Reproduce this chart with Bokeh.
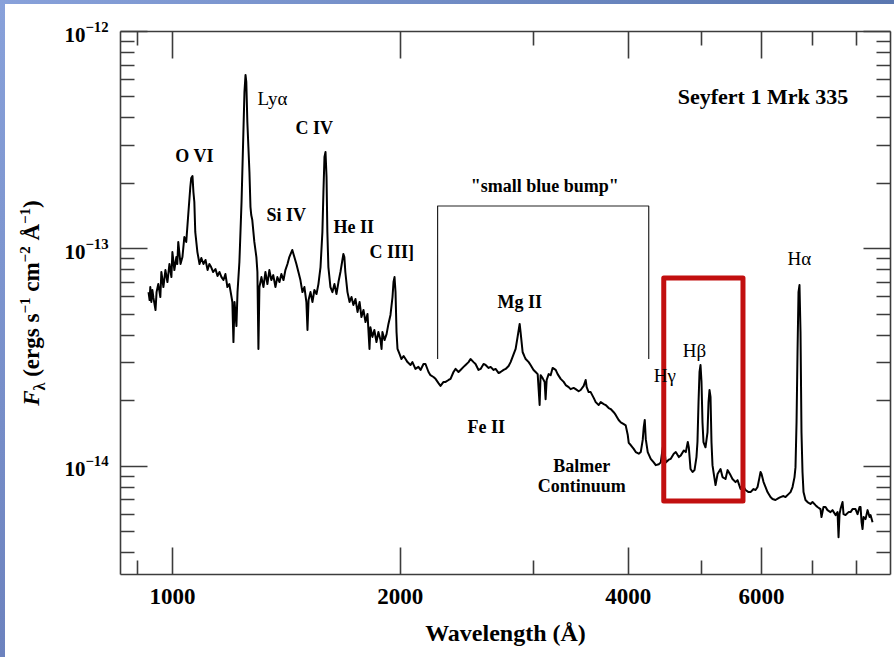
from bokeh.plotting import figure
from bokeh.layouts import column, row
from bokeh.models import (FixedTicker, LogAxis, Label, Div, Spacer,
                          NumeralTickFormatter, LogTickFormatter, CustomJSTickFormatter)
from bokeh.embed import file_html
from bokeh.resources import INLINE

# ---------------- data ----------------
FLUX_UNIT = 1e-14  # erg s^-1 cm^-2 A^-1

wavelength = [
    930, 933, 935, 938, 941, 944, 950, 953, 958, 964,
    967, 973, 979, 985, 991, 997, 1000, 1006, 1012, 1015,
    1018, 1025, 1031, 1037, 1043, 1050, 1056, 1059, 1063, 1066,
    1069, 1072, 1079, 1086, 1092, 1099, 1106, 1113, 1119, 1125,
    1132, 1140, 1147, 1154, 1161, 1168, 1175, 1182, 1189, 1197,
    1200, 1204, 1208, 1211, 1215, 1219, 1226, 1234, 1241, 1245,
    1249, 1252, 1256, 1260, 1264, 1268, 1271, 1275, 1283, 1291,
    1295, 1299, 1303, 1311, 1319, 1327, 1335, 1343, 1351, 1359,
    1368, 1376, 1385, 1393, 1402, 1410, 1419, 1427, 1436, 1440,
    1449, 1458, 1467, 1476, 1485, 1494, 1503, 1508, 1513, 1522,
    1531, 1540, 1550, 1559, 1569, 1578, 1583, 1588, 1593, 1598,
    1602, 1607, 1617, 1627, 1637, 1647, 1657, 1667, 1677, 1682,
    1687, 1692, 1703, 1714, 1724, 1734, 1745, 1756, 1767, 1777,
    1788, 1799, 1810, 1821, 1826, 1837, 1848, 1860, 1871, 1883,
    1889, 1894, 1906, 1918, 1929, 1941, 1953, 1959, 1965, 1971,
    1977, 1983, 1995, 2007, 2020, 2032, 2044, 2063, 2075, 2094,
    2113, 2127, 2146, 2159, 2179, 2192, 2212, 2226, 2246, 2260,
    2281, 2295, 2316, 2330, 2351, 2366, 2387, 2402, 2424, 2439,
    2461, 2476, 2499, 2514, 2537, 2553, 2576, 2592, 2616, 2632,
    2656, 2672, 2697, 2713, 2738, 2755, 2780, 2797, 2814, 2840,
    2857, 2875, 2883, 2901, 2919, 2928, 2955, 2972, 2999, 3018,
    3037, 3055, 3064, 3083, 3102, 3111, 3121, 3140, 3159, 3178,
    3208, 3227, 3257, 3287, 3307, 3337, 3357, 3388, 3409, 3440,
    3461, 3493, 3514, 3525, 3546, 3568, 3601, 3623, 3656, 3679,
    3713, 3735, 3769, 3792, 3827, 3850, 3885, 3910, 3946, 3969,
    3994, 4006, 4030, 4067, 4092, 4130, 4155, 4180, 4193, 4206,
    4219, 4244, 4283, 4322, 4349, 4389, 4416, 4443, 4456, 4470,
    4483, 4524, 4552, 4594, 4622, 4665, 4693, 4736, 4765, 4794,
    4809, 4834, 4864, 4893, 4922, 4937, 4953, 4968, 4983, 4998,
    5013, 5028, 5059, 5090, 5106, 5121, 5137, 5152, 5168, 5184,
    5216, 5248, 5296, 5328, 5377, 5410, 5459, 5492, 5543, 5577,
    5628, 5662, 5714, 5767, 5802, 5855, 5891, 5927, 5963, 5981,
    5999, 6036, 6073, 6109, 6165, 6203, 6259, 6317, 6355, 6413,
    6453, 6512, 6552, 6592, 6632, 6652, 6673, 6693, 6713, 6733,
    6754, 6774, 6795, 6816, 6857, 6899, 6962, 7005, 7069, 7112,
    7177, 7199, 7243, 7288, 7332, 7399, 7444, 7513, 7559, 7582,
    7605, 7628, 7675, 7698, 7745, 7816, 7864, 7912, 7984, 8033,
    8082, 8107, 8132, 8156, 8181, 8231, 8281, 8332, 8357, 8408,
]

flux_1e14 = [
    6.32, 5.81, 6.67, 5.69, 6.46, 5.94, 5.23, 6.32, 6.88, 6.00,
    7.82, 6.67, 7.98, 7.03, 8.51, 7.41, 9.66, 7.98, 9.16, 8.51,
    10.75, 8.51, 9.16, 11.33, 10.75, 14.76, 19.25, 21.18, 21.63, 18.26,
    16.42, 11.95, 9.66, 8.51, 9.07, 8.51, 8.88, 7.98, 8.51, 8.24,
    7.82, 8.07, 7.49, 7.82, 7.41, 7.18, 7.65, 6.67, 6.88, 6.00,
    5.69, 3.72, 5.69, 5.12, 4.41, 6.32, 8.69, 16.42, 34.48, 52.69,
    63.08, 58.57, 38.33, 29.41, 22.57, 15.57, 14.30, 13.56, 10.75, 9.16,
    7.82, 3.46, 6.67, 7.41, 6.67, 7.82, 6.88, 7.98, 7.18, 7.57,
    6.67, 7.41, 7.03, 7.65, 7.18, 7.98, 8.51, 9.16, 9.66, 9.87,
    9.16, 8.51, 7.82, 7.18, 6.32, 6.67, 5.69, 4.23, 5.81, 6.32,
    5.69, 6.46, 6.19, 6.88, 8.24, 11.95, 18.26, 26.45, 27.89, 21.40,
    11.95, 8.24, 6.67, 6.32, 6.88, 6.19, 7.03, 7.82, 8.88, 9.46,
    9.16, 7.82, 6.32, 5.69, 6.00, 5.51, 5.87, 5.12, 5.69, 4.85,
    5.23, 4.60, 5.01, 3.46, 4.36, 3.93, 4.23, 3.72, 4.14, 3.80,
    3.46, 4.14, 3.80, 4.05, 4.51, 4.96, 6.00, 7.03, 7.41, 6.32,
    4.14, 3.46, 3.28, 3.11, 3.21, 3.11, 3.01, 2.92, 3.01, 2.80,
    2.86, 2.77, 2.95, 2.95, 2.71, 2.62, 2.57, 2.52, 2.41, 2.34,
    2.44, 2.44, 2.49, 2.52, 2.71, 2.80, 2.71, 2.77, 2.86, 2.92,
    3.01, 3.11, 3.01, 2.95, 2.77, 2.80, 2.95, 2.92, 2.83, 2.86,
    2.77, 2.80, 2.68, 2.71, 2.77, 2.80, 2.89, 3.01, 3.18, 3.46,
    3.93, 4.51, 4.14, 3.35, 3.18, 3.11, 3.01, 2.92, 2.77, 2.71,
    2.65, 1.91, 2.62, 2.54, 2.44, 2.03, 2.49, 2.65, 2.62, 2.83,
    2.77, 2.65, 2.52, 2.44, 2.36, 2.31, 2.26, 2.29, 2.26, 2.21,
    2.24, 2.34, 2.49, 2.31, 2.19, 2.19, 2.06, 1.97, 1.91, 1.97,
    1.93, 1.91, 1.85, 1.83, 1.77, 1.72, 1.63, 1.59, 1.56, 1.54,
    1.39, 1.28, 1.25, 1.20, 1.16, 1.14, 1.16, 1.32, 1.51, 1.63,
    1.33, 1.16, 1.08, 1.04, 1.01, 1.02, 1.04, 1.22, 1.26, 1.14,
    1.04, 1.07, 1.08, 1.14, 1.16, 1.10, 1.12, 1.18, 1.16, 1.29,
    1.22, 0.969, 0.939, 0.958, 1.10, 1.29, 1.97, 2.71, 2.92, 2.44,
    1.59, 1.29, 1.22, 1.43, 1.97, 2.24, 2.08, 1.29, 1.01, 0.939,
    0.818, 0.919, 0.969, 0.890, 0.872, 0.958, 0.909, 0.872, 0.844, 0.862,
    0.784, 0.818, 0.776, 0.759, 0.759, 0.784, 0.776, 0.801, 0.890, 0.939,
    0.919, 0.844, 0.801, 0.759, 0.720, 0.705, 0.698, 0.712, 0.720, 0.728,
    0.720, 0.743, 0.759, 0.801, 0.890, 0.989, 1.59, 3.35, 6.32, 6.81,
    4.14, 1.43, 0.939, 0.759, 0.698, 0.683, 0.669, 0.683, 0.661, 0.648,
    0.634, 0.583, 0.648, 0.648, 0.627, 0.614, 0.627, 0.595, 0.614, 0.471,
    0.601, 0.634, 0.683, 0.601, 0.595, 0.614, 0.614, 0.634, 0.634, 0.601,
    0.648, 0.648, 0.552, 0.513, 0.583, 0.570, 0.627, 0.583, 0.595, 0.552,
]

# emission-line labels: text, wavelength at label start, flux at label baseline
line_names = ["O VI", "Si IV", "C IV", "He II", "C III]", "Mg II", "Fe II"]
line_label_wl = [1009, 1331, 1454, 1632, 1821, 2688, 2454]
line_label_flux = [26.8, 14.3, 36.0, 12.6, 9.66, 5.69, 1.52]

greek_names = ["Lyα", "Hγ", "Hβ", "Hα"]
greek_label_wl = [1295, 4322, 4722, 6492]
greek_label_flux = [49.4, 2.60, 3.42, 9.07]

balmer_text = ["Balmer", "Continuum"]
balmer_wl = [3472, 3472]
balmer_flux = [1.000, 0.809]

bump_text = '"small blue bump"'
bump_label_wl = 3102
bump_label_flux = 19.45
bump_wl = [2240, 4257]          # bracket ends
bump_top_flux = 15.74
bump_leg_flux = 3.11

hbeta_box_wl = [4456, 5670]     # highlighted H-beta region
hbeta_box_flux = [0.690, 7.34]

title_text = "Seyfert 1 Mrk 335"
title_wl = 4650
title_flux = 50.0

x_major = [1000, 2000, 4000, 6000]
x_minor = [900, 3000, 5000, 7000, 8000]
y_major = [1e-14, 1e-13, 1e-12]
y_minor = [m * 10.0 ** e for e in (-15, -14, -13) for m in range(2, 10)]

flux = [f * FLUX_UNIT for f in flux_1e14]

# ---------------- figure ----------------
SERIF = "Liberation Serif"
AXC = "#3c3c3c"
W, H = 894, 657
LEFT_W, TOP_H = 50, 4

p = figure(width=W - LEFT_W, height=H - TOP_H, x_axis_type="log", y_axis_type="log",
           x_range=(854, 8880), y_range=(3.17e-15, 1.0e-12),
           output_backend="svg", toolbar_location=None,
           min_border_left=120 - LEFT_W, min_border_right=4,
           min_border_top=31 - TOP_H, min_border_bottom=83,
           background_fill_color="white", border_fill_color="white", margin=0)
p.outline_line_color = None
p.grid.visible = False


def style_axis(ax):
    ax.axis_line_color = AXC
    ax.axis_line_width = 1.6
    ax.major_tick_line_color = AXC
    ax.major_tick_line_width = 1.6
    ax.minor_tick_line_color = AXC
    ax.minor_tick_line_width = 1.6
    ax.major_tick_in = 27
    ax.major_tick_out = 0
    ax.minor_tick_in = 14
    ax.minor_tick_out = 0


xa = p.xaxis[0]
xa.ticker = FixedTicker(ticks=x_major, minor_ticks=x_minor)
xa.formatter = NumeralTickFormatter(format="0")
style_axis(xa)
xa.major_label_text_font = SERIF
xa.major_label_text_font_style = "bold"
xa.major_label_text_font_size = "23px"
xa.major_label_text_color = "black"
xa.major_label_standoff = 14
xa.axis_label = "Wavelength (Å)"
xa.axis_label_text_font = SERIF
xa.axis_label_text_font_style = "bold"
xa.axis_label_text_font_size = "24px"
xa.axis_label_text_color = "black"
xa.axis_label_standoff = 13

ya = p.yaxis[0]
ya.ticker = FixedTicker(ticks=y_major, minor_ticks=y_minor)
ya.formatter = LogTickFormatter()
style_axis(ya)
ya.major_label_text_font = SERIF
ya.major_label_text_font_style = "bold"
ya.major_label_text_font_size = "21px"
ya.major_label_text_color = "black"
ya.major_label_standoff = 12

blank = CustomJSTickFormatter(code="return ''")
top = LogAxis(ticker=FixedTicker(ticks=x_major, minor_ticks=x_minor),
              formatter=blank, major_label_text_font_size="4px", major_label_standoff=0)
style_axis(top)
p.add_layout(top, "above")

right = LogAxis(ticker=FixedTicker(ticks=y_major, minor_ticks=y_minor),
                formatter=blank, major_label_text_font_size="4px", major_label_standoff=0)
style_axis(right)
p.add_layout(right, "right")

# spectrum
p.line(wavelength, flux, line_color="black", line_width=2, line_join="round")

# "small blue bump" bracket
p.line([bump_wl[0], bump_wl[0], bump_wl[1], bump_wl[1]],
       [bump_leg_flux * FLUX_UNIT, bump_top_flux * FLUX_UNIT,
        bump_top_flux * FLUX_UNIT, bump_leg_flux * FLUX_UNIT],
       line_color="#222222", line_width=1.2)

# H-beta highlight box
p.quad(left=[hbeta_box_wl[0]], right=[hbeta_box_wl[1]],
       bottom=[hbeta_box_flux[0] * FLUX_UNIT], top=[hbeta_box_flux[1] * FLUX_UNIT],
       fill_color=None, line_color="#c20f0f", line_width=5, line_join="round")


def add_label(x, y, text, style="bold", size="18px", align="left"):
    p.add_layout(Label(x=x, y=y, text=text, text_font=SERIF,
                       text_font_style=style, text_font_size=size,
                       text_align=align, text_baseline="alphabetic",
                       text_color="black"))


for t, x, y in zip(line_names, line_label_wl, line_label_flux):
    add_label(x, y * FLUX_UNIT, t)
for t, x, y in zip(greek_names, greek_label_wl, greek_label_flux):
    add_label(x, y * FLUX_UNIT, t, style="normal", size="19px")
for t, x, y in zip(balmer_text, balmer_wl, balmer_flux):
    add_label(x, y * FLUX_UNIT, t, align="center")
add_label(bump_label_wl, bump_label_flux * FLUX_UNIT, bump_text, align="center")
add_label(title_wl, title_flux * FLUX_UNIT, title_text, size="22px")

# ---------------- side pieces: y-axis label (rich text) and slide bands ----------------
ylabel_html = (
    '<div style="position:relative;width:%dpx;height:%dpx;">'
    '<div style="position:absolute;left:0;top:0;width:5px;height:%dpx;'
    'background:linear-gradient(#88a1da,#6c82be);"></div>'
    '<div style="position:absolute;left:33px;top:299px;transform:translate(-50%%,-50%%) rotate(-90deg);'
    'white-space:nowrap;font-family:\'Liberation Serif\';font-weight:bold;font-size:23px;'
    'line-height:1;color:black;">'
    '<i>F</i><sub style="font-size:16px;">λ</sub> (ergs s<sup style="font-size:15px;">−1</sup> '
    'cm<sup style="font-size:15px;">−2</sup> Å<sup style="font-size:15px;">−1</sup>)</div></div>'
) % (LEFT_W, H - TOP_H, H - TOP_H)
left_div = Div(text=ylabel_html, width=LEFT_W, height=H - TOP_H, margin=0)

top_band = Spacer(width=W, height=TOP_H, margin=0,
                  styles={"background": "linear-gradient(to right, #88a1da, #5a77b0)"})

layout = column(top_band, row(left_div, p, spacing=0, margin=0), spacing=0, margin=0)

open("out.html", "w").write(file_html(layout, INLINE))
